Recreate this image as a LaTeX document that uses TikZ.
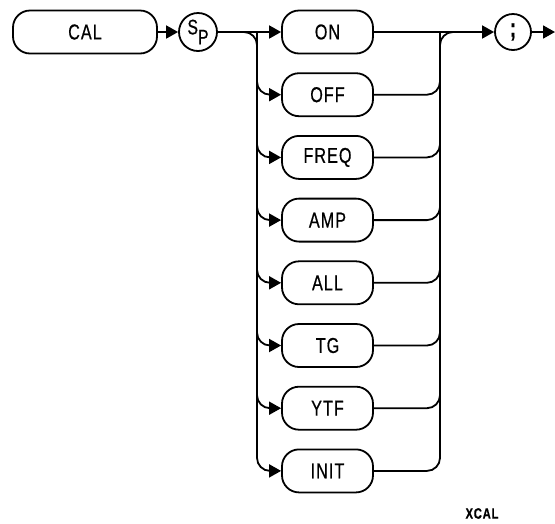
\documentclass[tikz,border=0pt]{standalone}
\usepackage{fontspec}
\setmainfont{Liberation Sans}[LetterSpace=5,FakeStretch=0.75,FakeBold=0.6]
\usetikzlibrary{arrows.meta}
\begin{document}
\begin{tikzpicture}[x=1pt,y=-1pt,line width=1.8pt,
  kw/.style={draw,rounded corners=17pt,minimum width=91pt,minimum height=43pt,inner sep=0pt,font=\fontsize{21.5}{21.5}\selectfont},
  circ/.style={draw,circle,minimum size=36pt,inner sep=0pt},
  arr/.style={-{Triangle[length=12pt,width=13pt]}},
  rcurve/.style={rounded corners=13pt}]
\useasboundingbox (0,0) rectangle (555,523);
\node[kw,minimum width=144pt] (cal) at (85,32) {CAL};
\node[circ,minimum size=38pt] (sp) at (198,32) {\fontsize{21}{21}\selectfont\raisebox{4pt}{S}\raisebox{-6pt}{P}};
\node[circ] (semi) at (513,32) {\fontsize{26}{26}\selectfont\bfseries ;};
\node[kw] (on) at (327.5,32) {ON};
\node[kw] (off) at (327.5,94.7) {OFF};
\node[kw] (freq) at (327.5,157.4) {FREQ};
\node[kw] (amp) at (327.5,220.1) {AMP};
\node[kw] (all) at (327.5,282.8) {ALL};
\node[kw] (tg) at (327.5,345.5) {TG};
\node[kw] (ytf) at (327.5,408.2) {YTF};
\node[kw] (init) at (327.5,470.9) {INIT};
\coordinate (lt) at (257,32);
\coordinate (rt) at (440,32);
\coordinate (mr) at (462,32);
\coordinate (end) at (555,32);
\node[font=\fontsize{15}{15}\selectfont\bfseries] (lbl) at (482,513.5) {XCAL};
% main line
\draw[arr] (cal) -- (sp);
\draw[arr] (sp.east) -- (on.west);
\draw[arr] (on.east) -- (semi.west);
\draw[arr] (semi.east) -- (end);
% left trunk
\draw[arr,rcurve] (sp.east) -| (lt |- init.west) -- (init.west);
\draw[arr,rcurve] (lt |- on.west) |- (off.west);
\draw[arr,rcurve] (lt |- off.west) |- (freq.west);
\draw[arr,rcurve] (lt |- freq.west) |- (amp.west);
\draw[arr,rcurve] (lt |- amp.west) |- (all.west);
\draw[arr,rcurve] (lt |- all.west) |- (tg.west);
\draw[arr,rcurve] (lt |- tg.west) |- (ytf.west);
% right trunk
\draw[rcurve] (init.east) -| (rt) -- (mr);
\draw[rcurve] (off.east) -| (rt |- on.east);
\draw[rcurve] (freq.east) -| (rt |- off.east);
\draw[rcurve] (amp.east) -| (rt |- freq.east);
\draw[rcurve] (all.east) -| (rt |- amp.east);
\draw[rcurve] (tg.east) -| (rt |- all.east);
\draw[rcurve] (ytf.east) -| (rt |- tg.east);
\end{tikzpicture}
\end{document}
